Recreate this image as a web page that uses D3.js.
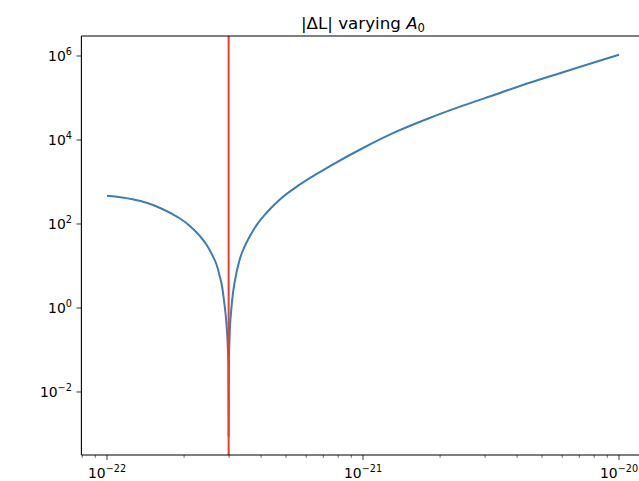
<!DOCTYPE html>
<html>
<head>
<meta charset="utf-8">
<script src="https://cdn.jsdelivr.net/npm/d3@7"></script>
<style>
  body { margin: 0; background: #fff; }
  text { font-family: "DejaVu Sans", sans-serif; fill: #000; }
</style>
</head>
<body>
<div id="chart"></div>
<script>
// A0 values (x) and |dL| (y)
var a0 = [1.0e-22, 1.259e-22, 1.428e-22, 1.605e-22, 1.804e-22, 1.921e-22, 2.102e-22, 2.300e-22,
          2.449e-22, 2.585e-22, 2.680e-22, 2.754e-22, 2.816e-22, 2.855e-22, 2.893e-22, 2.924e-22,
          2.948e-22, 2.967e-22, 2.980e-22, 2.986e-22, 2.991e-22, 3.012e-22, 3.058e-22, 3.100e-22,
          3.150e-22, 3.296e-22, 3.447e-22, 3.606e-22, 3.876e-22, 4.192e-22, 4.722e-22, 5.653e-22,
          7.404e-22, 1.0e-21, 1.349e-21, 1.820e-21, 2.455e-21, 3.317e-21, 4.475e-21, 6.04e-21,
          8.15e-21, 1.0e-20];
var dL = [472, 389, 321, 244, 171, 137, 91.1, 52.6,
          32.1, 17.6, 10.7, 5.87, 3.21, 1.76, 0.911, 0.472,
          0.231, 0.102, 0.034, 0.0009, 0.034, 0.207, 0.911, 2.07,
          4.0, 14.1, 28.8, 49.9, 102, 183, 379, 863,
          2352, 6450, 15770, 33400, 65600, 123000, 231000, 411000,
          731000, 1074000];
var aStar = 2.986e-22;   // red vertical line
var xMajor = [1e-22, 1e-21, 1e-20];
var yMajor = [1e-2, 1e0, 1e2, 1e4, 1e6];

var width = 639, height = 481;
var box = {left: 81.4, right: 644.6, top: 36, bottom: 455};

var svg = d3.select("#chart").append("svg")
    .attr("width", width)
    .attr("height", height);

var x = d3.scaleLog()
    .domain([Math.pow(10, -22.1), Math.pow(10, -19.9)])
    .range([box.left, box.right]);
var y = d3.scaleLog()
    .domain([Math.pow(10, -3.5), Math.pow(10, 6.476)])
    .range([box.bottom, box.top]);

svg.append("clipPath").attr("id", "clip")
  .append("rect")
    .attr("x", box.left).attr("y", box.top)
    .attr("width", box.right - box.left).attr("height", box.bottom - box.top);

var plot = svg.append("g").attr("clip-path", "url(#clip)");

var pts = a0.map(function(d, i){ return [d, dL[i]]; });
var line = d3.line()
    .x(function(d){ return x(d[0]); })
    .y(function(d){ return y(d[1]); })
    .curve(d3.curveMonotoneX);

plot.append("path")
    .datum(pts)
    .attr("d", line)
    .attr("fill", "none")
    .attr("stroke", "#3a7db9")
    .attr("stroke-width", 2);

plot.append("line")
    .attr("x1", x(aStar)).attr("x2", x(aStar))
    .attr("y1", box.top).attr("y2", box.bottom)
    .attr("stroke", "#ee3b2b")
    .attr("stroke-width", 2);

// minor x ticks
var xMinor = [];
[-23, -22, -21, -20].forEach(function(e){
    for(var m = 2; m <= 9; m++){
        var v = m * Math.pow(10, e);
        if(x(v) >= box.left && x(v) <= width) xMinor.push(v);
    }
});
svg.selectAll(".xminor").data(xMinor).enter().append("line")
    .attr("x1", function(d){ return x(d); }).attr("x2", function(d){ return x(d); })
    .attr("y1", box.bottom).attr("y2", box.bottom + 2.8)
    .attr("stroke", "#000").attr("stroke-width", 0.6);

function powLabel(sel, e){
    sel.append("tspan").text("10");
    sel.append("tspan")
        .attr("dy", -6)
        .attr("font-size", "9.7px")
        .text(e < 0 ? "\u2212" + (-e) : "" + e);
}

var xt = svg.selectAll(".xtick").data(xMajor).enter().append("g")
    .attr("transform", function(d){ return "translate(" + x(d) + "," + box.bottom + ")"; });
xt.append("line").attr("y2", 4.9).attr("stroke", "#000").attr("stroke-width", 0.8);
xt.append("text")
    .attr("y", 22.5)
    .attr("text-anchor", "middle")
    .attr("font-size", "13.9px")
    .each(function(d){ powLabel(d3.select(this), Math.round(Math.log10(d))); });

var yt = svg.selectAll(".ytick").data(yMajor).enter().append("g")
    .attr("transform", function(d){ return "translate(" + box.left + "," + y(d) + ")"; });
yt.append("line").attr("x2", -4.9).attr("stroke", "#000").attr("stroke-width", 0.8);
yt.append("text")
    .attr("x", -9.5)
    .attr("y", 5.5)
    .attr("text-anchor", "end")
    .attr("font-size", "13.9px")
    .each(function(d){ powLabel(d3.select(this), Math.round(Math.log10(d))); });

// spines
svg.append("line").attr("x1", box.left).attr("x2", box.left)
    .attr("y1", box.top).attr("y2", box.bottom)
    .attr("stroke", "#000").attr("stroke-width", 1.1);
svg.append("line").attr("x1", box.left).attr("x2", width)
    .attr("y1", box.bottom).attr("y2", box.bottom)
    .attr("stroke", "#000").attr("stroke-width", 1.1);
svg.append("line").attr("x1", box.left).attr("x2", width)
    .attr("y1", box.top).attr("y2", box.top)
    .attr("stroke", "#000").attr("stroke-width", 1.1);

// title
var title = svg.append("text")
    .attr("x", (box.left + box.right) / 2)
    .attr("y", 29)
    .attr("text-anchor", "middle")
    .attr("font-size", "16.7px");
title.append("tspan").text("|\u0394L| varying ");
title.append("tspan").attr("font-style", "italic").text("A");
title.append("tspan").attr("dy", 3).attr("font-size", "11.7px").text("0");
</script>
</body>
</html>
